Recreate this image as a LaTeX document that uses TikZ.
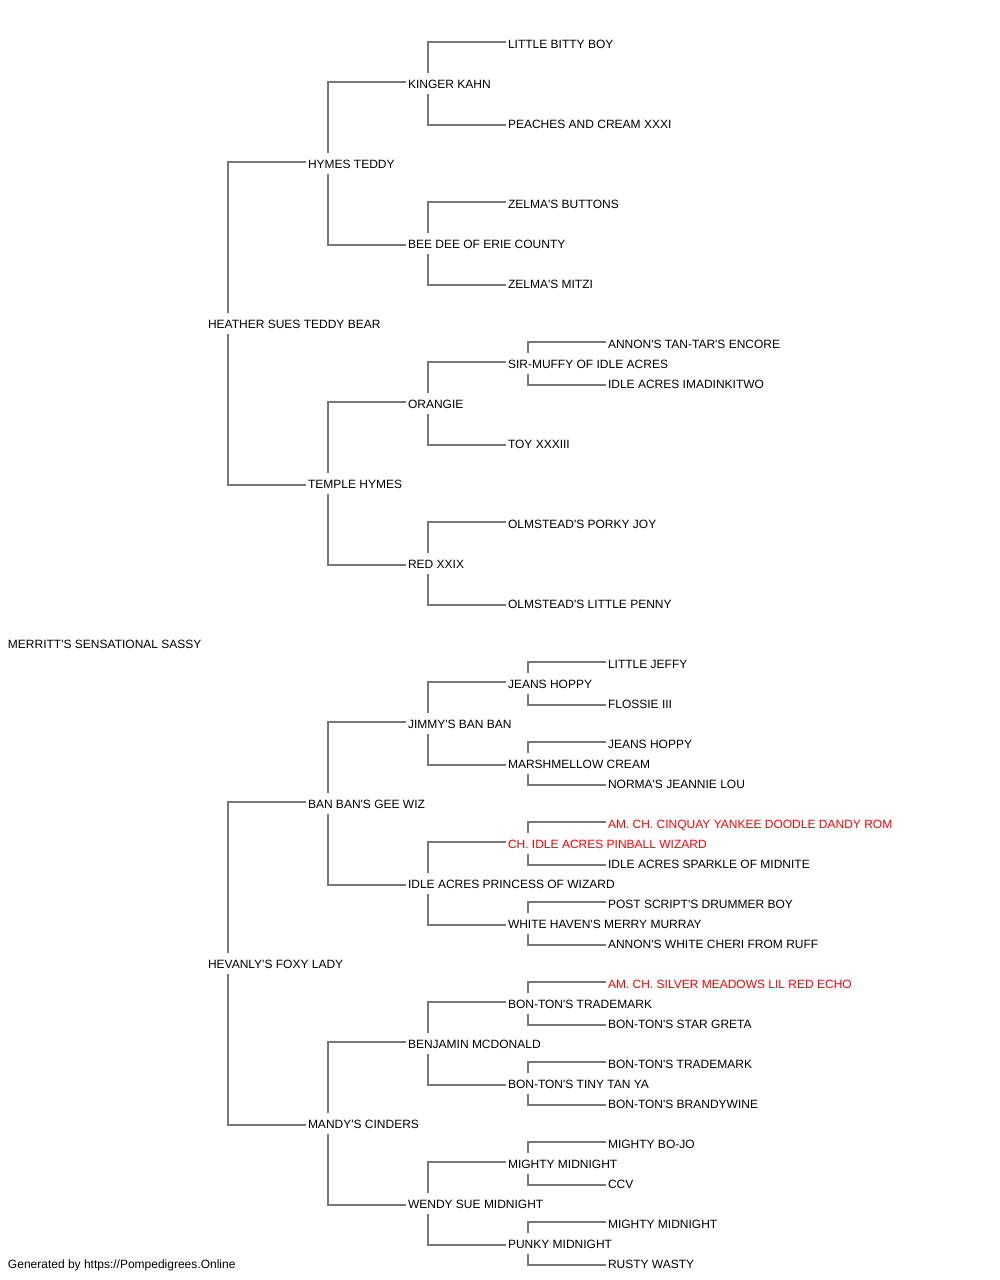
\documentclass[tikz,border=0pt]{standalone}
\usepackage{fontspec}
\setmainfont{Liberation Sans}[Ligatures=TeXOff]
\definecolor{linegray}{RGB}{120,120,120}
\definecolor{redname}{RGB}{255,0,0}
\tikzset{
  lbl/.style={anchor=base west, inner sep=0pt, outer sep=0pt, font=\fontsize{12}{14}\selectfont, text=black},
  champ/.style={lbl, text=redname},
  conn/.style={draw=linegray, line width=1.2pt},
}
\newcommand\kin[3]{%
  \draw[conn] ([shift={(20,-15)}]#1.base west) |- ([shift={(-2,-6)}]#2.base west);
  \draw[conn] ([shift={(20,6)}]#1.base west) |- ([shift={(-2,-3)}]#3.base west);
}
\begin{document}
\begin{tikzpicture}[x=1pt,y=-1pt]
\useasboundingbox (0,0) rectangle (1000,1280);
% generation 0
\node[lbl] (r) at (8,648) {MERRITT'S SENSATIONAL SASSY};
% generation 1
\node[lbl] (s) at (208,328) {HEATHER SUES TEDDY BEAR};
\node[lbl] (d) at (208,968) {HEVANLY'S FOXY LADY};
% generation 2
\node[lbl] (ss) at (308,168) {HYMES TEDDY};
\node[lbl] (sd) at (308,488) {TEMPLE HYMES};
\node[lbl] (ds) at (308,808) {BAN BAN'S GEE WIZ};
\node[lbl] (dd) at (308,1128) {MANDY'S CINDERS};
% generation 3
\node[lbl] (sss) at (408,88) {KINGER KAHN};
\node[lbl] (ssd) at (408,248) {BEE DEE OF ERIE COUNTY};
\node[lbl] (sds) at (408,408) {ORANGIE};
\node[lbl] (sdd) at (408,568) {RED XXIX};
\node[lbl] (dss) at (408,728) {JIMMY'S BAN BAN};
\node[lbl] (dsd) at (408,888) {IDLE ACRES PRINCESS OF WIZARD};
\node[lbl] (dds) at (408,1048) {BENJAMIN MCDONALD};
\node[lbl] (ddd) at (408,1208) {WENDY SUE MIDNIGHT};
% generation 4
\node[lbl] (ssss) at (508,48) {LITTLE BITTY BOY};
\node[lbl] (sssd) at (508,128) {PEACHES AND CREAM XXXI};
\node[lbl] (ssds) at (508,208) {ZELMA'S BUTTONS};
\node[lbl] (ssdd) at (508,288) {ZELMA'S MITZI};
\node[lbl] (sdss) at (508,368) {SIR-MUFFY OF IDLE ACRES};
\node[lbl] (sdsd) at (508,448) {TOY XXXIII};
\node[lbl] (sdds) at (508,528) {OLMSTEAD'S PORKY JOY};
\node[lbl] (sddd) at (508,608) {OLMSTEAD'S LITTLE PENNY};
\node[lbl] (dsss) at (508,688) {JEANS HOPPY};
\node[lbl] (dssd) at (508,768) {MARSHMELLOW CREAM};
\node[champ] (dsds) at (508,848) {CH. IDLE ACRES PINBALL WIZARD};
\node[lbl] (dsdd) at (508,928) {WHITE HAVEN'S MERRY MURRAY};
\node[lbl] (ddss) at (508,1008) {BON-TON'S TRADEMARK};
\node[lbl] (ddsd) at (508,1088) {BON-TON'S TINY TAN YA};
\node[lbl] (ddds) at (508,1168) {MIGHTY MIDNIGHT};
\node[lbl] (dddd) at (508,1248) {PUNKY MIDNIGHT};
% generation 5
\node[lbl] (sdsss) at (608,348) {ANNON'S TAN-TAR'S ENCORE};
\node[lbl] (sdssd) at (608,388) {IDLE ACRES IMADINKITWO};
\node[lbl] (dssss) at (608,668) {LITTLE JEFFY};
\node[lbl] (dsssd) at (608,708) {FLOSSIE III};
\node[lbl] (dssds) at (608,748) {JEANS HOPPY};
\node[lbl] (dssdd) at (608,788) {NORMA'S JEANNIE LOU};
\node[champ] (dsdss) at (608,828) {AM. CH. CINQUAY YANKEE DOODLE DANDY ROM};
\node[lbl] (dsdsd) at (608,868) {IDLE ACRES SPARKLE OF MIDNITE};
\node[lbl] (dsdds) at (608,908) {POST SCRIPT'S DRUMMER BOY};
\node[lbl] (dsddd) at (608,948) {ANNON'S WHITE CHERI FROM RUFF};
\node[champ] (ddsss) at (608,988) {AM. CH. SILVER MEADOWS LIL RED ECHO};
\node[lbl] (ddssd) at (608,1028) {BON-TON'S STAR GRETA};
\node[lbl] (ddsds) at (608,1068) {BON-TON'S TRADEMARK};
\node[lbl] (ddsdd) at (608,1108) {BON-TON'S BRANDYWINE};
\node[lbl] (dddss) at (608,1148) {MIGHTY BO-JO};
\node[lbl] (dddsd) at (608,1188) {CCV};
\node[lbl] (dddds) at (608,1228) {MIGHTY MIDNIGHT};
\node[lbl] (ddddd) at (608,1268) {RUSTY WASTY};
% footer
\node[lbl] (foot) at (8,1268) {Generated by https://Pompedigrees.Online};
% connectors
\kin{s}{ss}{sd}
\kin{d}{ds}{dd}
\kin{ss}{sss}{ssd}
\kin{sd}{sds}{sdd}
\kin{ds}{dss}{dsd}
\kin{dd}{dds}{ddd}
\kin{sss}{ssss}{sssd}
\kin{ssd}{ssds}{ssdd}
\kin{sds}{sdss}{sdsd}
\kin{sdd}{sdds}{sddd}
\kin{dss}{dsss}{dssd}
\kin{dsd}{dsds}{dsdd}
\kin{dds}{ddss}{ddsd}
\kin{ddd}{ddds}{dddd}
\kin{sdss}{sdsss}{sdssd}
\kin{dsss}{dssss}{dsssd}
\kin{dssd}{dssds}{dssdd}
\kin{dsds}{dsdss}{dsdsd}
\kin{dsdd}{dsdds}{dsddd}
\kin{ddss}{ddsss}{ddssd}
\kin{ddsd}{ddsds}{ddsdd}
\kin{ddds}{dddss}{dddsd}
\kin{dddd}{dddds}{ddddd}
\end{tikzpicture}
\end{document}
